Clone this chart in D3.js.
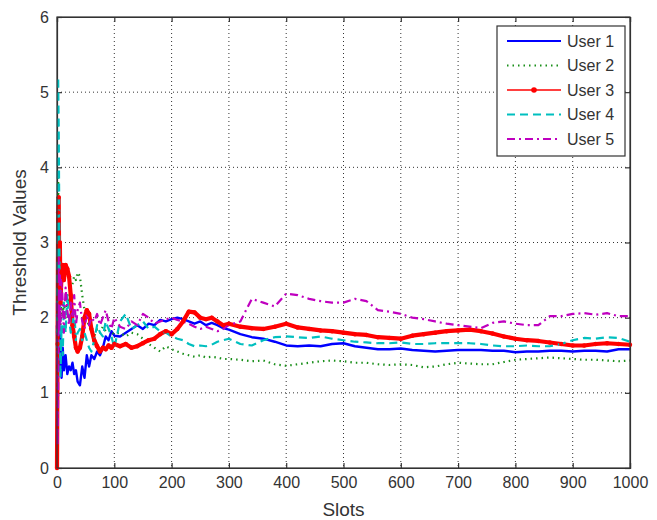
<!DOCTYPE html>
<html><head><meta charset="utf-8">
<script src="https://cdn.jsdelivr.net/npm/d3@7"></script>
<style>html,body{margin:0;padding:0;background:#fff;}svg{display:block;font-family:"Liberation Sans",Arial,sans-serif;}</style>
</head><body>
<svg id="chart" width="657" height="520"></svg>
<script>
const slots = [0,1,2,3,4,5,6,8,10,12,15,18,21,24,27,30,33,36,40,44,48,52,56,60,65,70,75,80,85,90,95,100,
110,120,130,140,150,160,170,180,190,200,210,220,230,240,250,260,270,280,290,300,
320,340,360,380,400,420,440,460,480,500,520,540,560,580,600,620,640,660,680,700,720,740,760,780,800,820,840,860,880,900,920,940,960,980,1000];

const user1 = [1.9,0.9,3.2,1.5,2.0,1.3,1.8,1.2,1.6,1.3,1.5,1.25,1.35,1.3,1.4,1.25,1.3,1.15,1.1,1.35,1.2,1.5,1.35,1.5,1.45,1.55,1.5,1.6,1.75,1.7,1.82,1.76,
1.75,1.8,1.85,1.9,1.85,1.92,1.9,1.97,1.95,1.98,2.0,1.98,1.95,1.92,1.95,1.9,1.93,1.9,1.86,1.84,
1.78,1.74,1.72,1.68,1.63,1.62,1.63,1.62,1.65,1.66,1.62,1.6,1.58,1.58,1.59,1.57,1.56,1.55,1.56,1.57,1.57,1.57,1.56,1.56,1.54,1.55,1.55,1.56,1.56,1.55,1.56,1.56,1.55,1.58,1.58];

const user2 = [1.8,2.5,3.9,3.0,2.2,2.6,1.9,2.3,2.0,2.2,2.0,2.3,2.2,2.4,2.45,2.55,2.5,2.6,2.55,2.3,2.1,1.95,1.9,1.8,1.75,1.85,1.8,1.88,1.82,1.85,1.8,1.78,
1.8,1.75,1.8,1.78,1.72,1.65,1.6,1.55,1.62,1.58,1.55,1.52,1.5,1.48,1.5,1.47,1.48,1.47,1.45,1.45,
1.44,1.42,1.43,1.38,1.36,1.38,1.4,1.42,1.43,1.42,1.4,1.4,1.38,1.37,1.38,1.37,1.34,1.35,1.38,1.4,1.39,1.38,1.38,1.41,1.44,1.45,1.46,1.47,1.46,1.45,1.44,1.44,1.43,1.42,1.43];

const user3 = [0,1.65,3.4,3.6,2.4,3.0,2.2,2.6,2.7,2.5,2.7,2.65,2.55,2.3,1.9,1.75,1.6,1.55,1.6,1.75,2.0,2.1,2.05,1.85,1.7,1.62,1.55,1.6,1.58,1.63,1.6,1.65,
1.62,1.65,1.6,1.62,1.66,1.7,1.72,1.78,1.82,1.78,1.85,1.95,2.08,2.07,2.0,1.98,2.0,1.95,1.9,1.92,
1.88,1.86,1.85,1.88,1.92,1.87,1.85,1.83,1.82,1.8,1.78,1.77,1.74,1.73,1.72,1.76,1.78,1.8,1.82,1.83,1.84,1.82,1.79,1.75,1.72,1.7,1.69,1.67,1.65,1.63,1.63,1.65,1.66,1.65,1.64];

const user4 = [1.6,3.0,5.2,4.5,3.3,2.0,1.2,1.9,1.5,2.2,1.8,2.3,2.0,1.8,1.9,2.1,1.7,1.8,1.85,1.7,1.8,1.7,1.6,1.55,1.7,1.9,1.8,1.75,1.95,1.85,1.75,1.6,
1.95,2.05,1.85,1.9,1.95,1.85,1.88,1.82,1.8,1.75,1.72,1.7,1.65,1.62,1.63,1.62,1.64,1.68,1.7,1.72,
1.65,1.63,1.7,1.74,1.75,1.74,1.73,1.75,1.72,1.7,1.68,1.67,1.66,1.66,1.67,1.65,1.65,1.66,1.66,1.66,1.66,1.65,1.63,1.62,1.62,1.63,1.62,1.62,1.65,1.7,1.73,1.72,1.74,1.73,1.68];

const user5 = [2.2,0.3,1.0,2.8,1.8,2.6,1.9,2.5,2.2,1.8,2.4,2.1,1.9,2.2,2.0,2.3,1.9,2.1,2.2,1.95,1.85,2.05,1.9,2.0,1.95,2.05,1.9,2.0,2.1,1.95,1.85,2.0,
1.88,1.85,1.95,1.9,2.05,2.0,1.92,1.95,1.98,2.0,1.97,1.95,1.92,1.88,1.85,1.88,1.85,1.82,1.85,1.9,
1.95,2.25,2.2,2.15,2.32,2.3,2.25,2.22,2.2,2.2,2.25,2.22,2.1,2.08,2.05,2.0,1.98,1.95,1.92,1.9,1.88,1.86,1.93,1.95,1.92,1.9,1.9,2.02,2.02,2.05,2.06,2.04,2.06,2.02,2.02];

const seriesNames = ["User 1","User 2","User 3","User 4","User 5"];
const seriesColors = ["#0000ff","#1a8f1a","#ff0000","#00bfbf","#bf00bf"];
const seriesValues = [user1,user2,user3,user4,user5];
const xTicks = [0,100,200,300,400,500,600,700,800,900,1000];
const yTicks = [0,1,2,3,4,5,6];

const svg = d3.select("#chart");
const L = 57, R = 630, T = 17, B = 468;
const x = d3.scaleLinear().domain([0,1000]).range([L,R]);
const y = d3.scaleLinear().domain([0,6]).range([B,T]);
const fmt = d3.format("d");

svg.append("rect").attr("width",657).attr("height",520).attr("fill","#fff");

// grid
const grid = svg.append("g").attr("stroke","#333").attr("stroke-width",1).attr("stroke-dasharray","1,3");
xTicks.slice(1,-1).forEach(t=>grid.append("line").attr("x1",x(t)).attr("x2",x(t)).attr("y1",T).attr("y2",B));
yTicks.slice(1,-1).forEach(t=>grid.append("line").attr("y1",y(t)).attr("y2",y(t)).attr("x1",L).attr("x2",R));

// axes
const axisColor = "#333";
const xAxis = svg.append("g").attr("transform",`translate(0,${B})`)
  .call(d3.axisBottom(x).tickValues(xTicks).tickFormat(fmt).tickSize(-5).tickPadding(9));
const xAxisTop = svg.append("g").attr("transform",`translate(0,${T})`)
  .call(d3.axisTop(x).tickValues(xTicks).tickSize(-5).tickFormat(""));
const yAxis = svg.append("g").attr("transform",`translate(${L},0)`)
  .call(d3.axisLeft(y).tickValues(yTicks).tickFormat(fmt).tickSize(-5).tickPadding(8));
const yAxisR = svg.append("g").attr("transform",`translate(${R},0)`)
  .call(d3.axisRight(y).tickValues(yTicks).tickSize(-5).tickFormat(""));
[xAxis,xAxisTop,yAxis,yAxisR].forEach(g=>{
  g.selectAll("path,line").attr("stroke",axisColor).attr("stroke-width",1.2);
  g.selectAll("text").attr("fill","#333").attr("font-size",16).attr("font-family","'Liberation Sans',Arial,sans-serif");
});

// clip
svg.append("clipPath").attr("id","clip").append("rect").attr("x",L-3).attr("y",T).attr("width",R-L+6).attr("height",B-T+3);

const styles = [
  {w:2.4, dash:null},
  {w:2.2, dash:"1.5,4"},
  {w:4.2, dash:null},
  {w:2.2, dash:"8,5"},
  {w:2.2, dash:"8,4,2,4"}
];
const line = d3.line().x((d,i)=>x(slots[i])).y(d=>y(d));
const plot = svg.append("g").attr("clip-path","url(#clip)");
seriesValues.forEach((vals,k)=>{
  plot.append("path").datum(vals)
    .attr("d",line).attr("fill","none")
    .attr("stroke",seriesColors[k]).attr("stroke-width",styles[k].w)
    .attr("stroke-linejoin","round")
    .attr("stroke-dasharray",styles[k].dash);
});
// red markers
plot.selectAll("circle.m").data(user3).join("circle").attr("class","m")
  .attr("cx",(d,i)=>x(slots[i])).attr("cy",d=>y(d)).attr("r",2.2).attr("fill","#ff0000");

// redraw box on top
svg.append("rect").attr("x",L).attr("y",T).attr("width",R-L).attr("height",B-T)
  .attr("fill","none").attr("stroke",axisColor).attr("stroke-width",1.2);

// axis labels
svg.append("text").attr("x",(L+R)/2).attr("y",516).attr("text-anchor","middle")
  .attr("font-size",19).attr("fill","#333").text("Slots");
svg.append("text").attr("transform",`translate(26,${(T+B)/2}) rotate(-90)`).attr("text-anchor","middle")
  .attr("font-size",19).attr("fill","#333").text("Threshold Values");

// legend
const lg = svg.append("g");
lg.append("rect").attr("x",497).attr("y",26).attr("width",128).attr("height",130)
  .attr("fill","#fff").attr("stroke","#333").attr("stroke-width",1.2);
seriesNames.forEach((n,k)=>{
  const yy = 41 + k*24.5;
  lg.append("line").attr("x1",507).attr("x2",561).attr("y1",yy).attr("y2",yy)
    .attr("stroke",seriesColors[k]).attr("stroke-width",k===2?1.3:2.2)
    .attr("stroke-dasharray",styles[k].dash);
  if(k===2) lg.append("circle").attr("cx",534).attr("cy",yy).attr("r",2.8).attr("fill","#ff0000");
  lg.append("text").attr("x",567).attr("y",yy).attr("dy","0.36em")
    .attr("font-size",16).attr("fill","#333").text(n);
});
</script>
</body></html>
